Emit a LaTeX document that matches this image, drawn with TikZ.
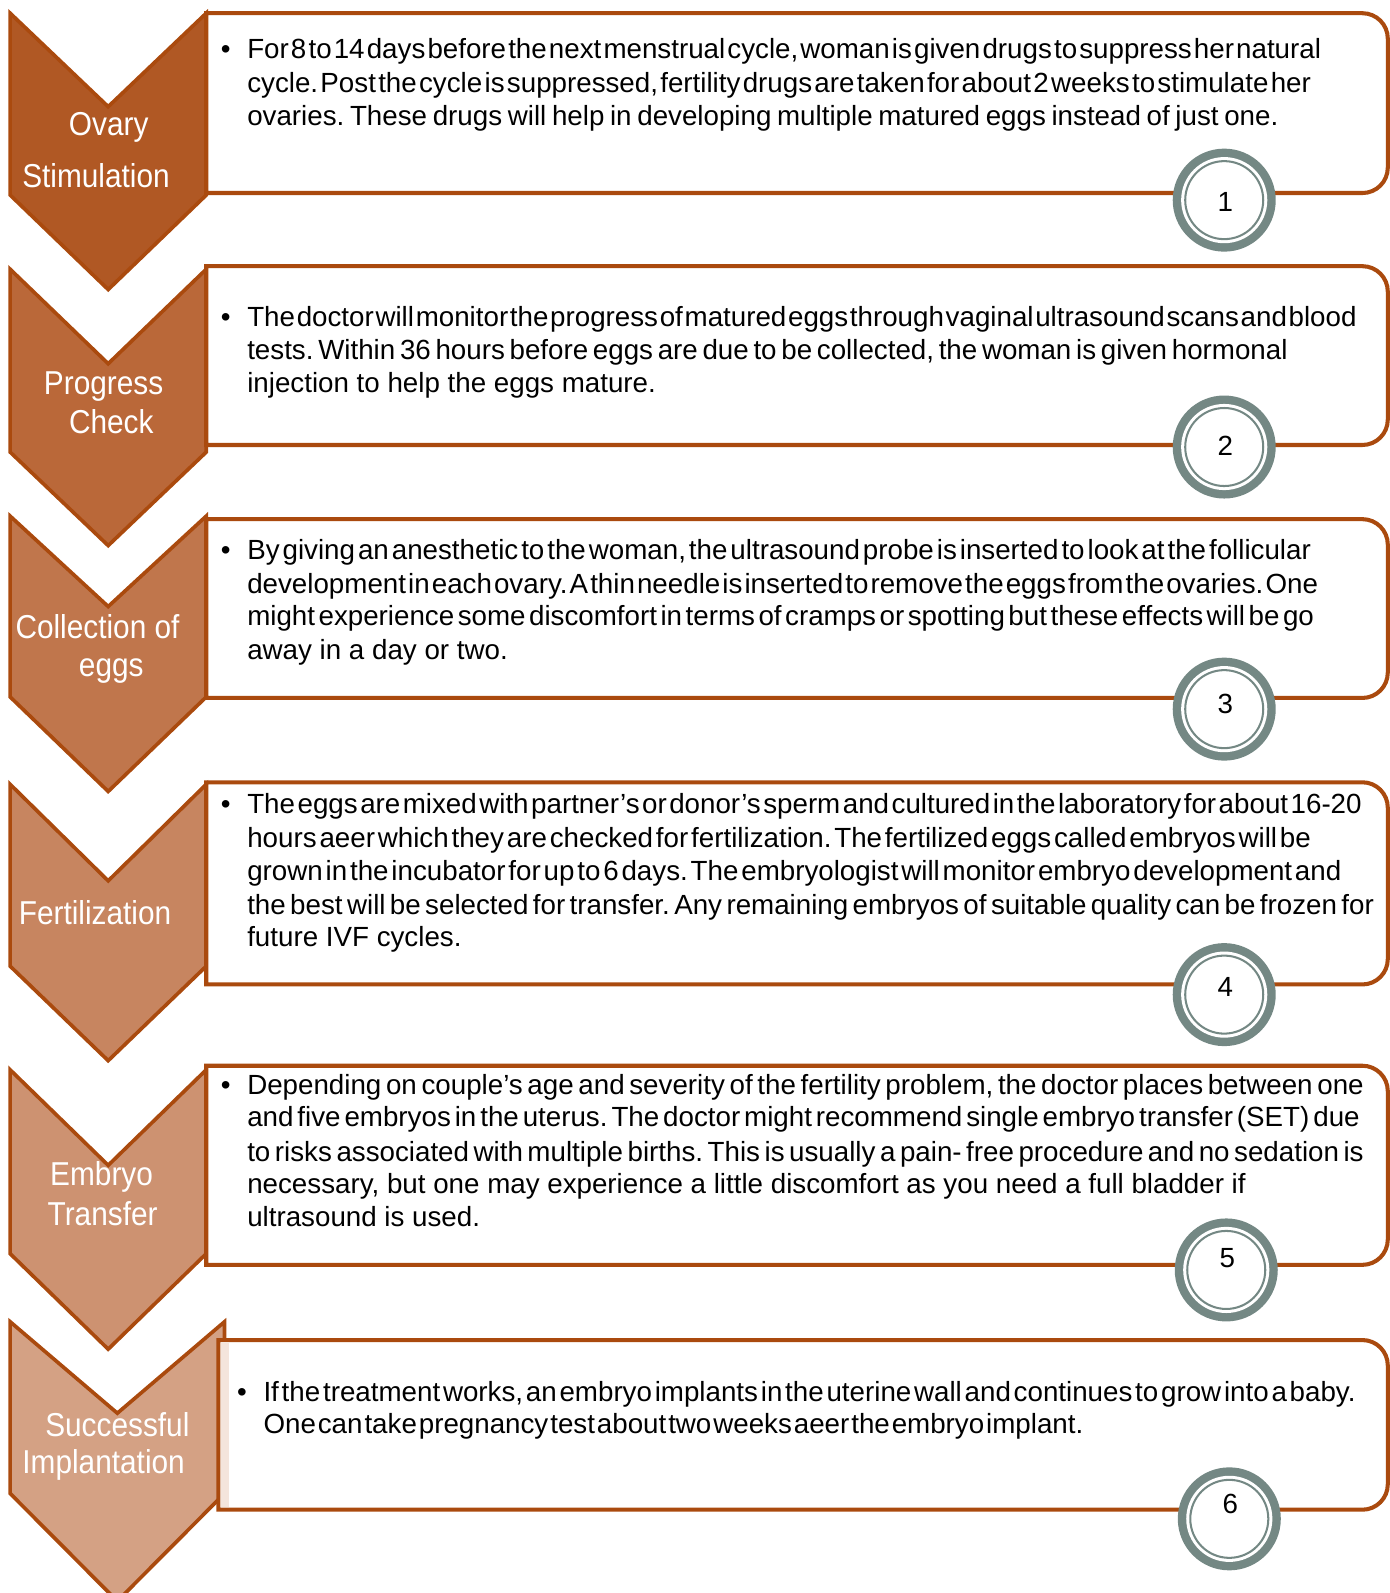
\documentclass[tikz,border=0pt]{standalone}
\usepackage{fontspec}
\setmainfont{Liberation Sans}
\newfontfamily\labelfont{Liberation Sans}[FakeStretch=0.9]
\frenchspacing

% one drawing unit = 0.5pt
\newdimen\pxu \pxu=0.5pt
% a text line set to a given width, the word spaces taking up the difference
\newcommand\tline[2]{\hbox to #1\pxu{\spaceskip=0.278em plus 0.25em minus 0.26em\relax #2}}

\definecolor{rust}{RGB}{170,74,14}
\definecolor{chevA}{RGB}{176,88,36}
\definecolor{chevB}{RGB}{186,104,57}
\definecolor{chevC}{RGB}{192,118,76}
\definecolor{chevD}{RGB}{199,133,96}
\definecolor{chevE}{RGB}{205,146,113}
\definecolor{chevF}{RGB}{212,161,132}
\definecolor{ringgray}{RGB}{116,136,132}
\definecolor{paleshade}{RGB}{244,229,220}

\tikzset{
  chev/.style={draw=rust, line width=1.8pt, line join=miter},
  stepbox/.style={draw=rust, line width=2pt, fill=white},
  body/.style={font=\fontsize{13.65}{16.4}\selectfont, inner sep=0pt, anchor=base west},
  lab/.style={font=\labelfont\fontsize{16.3}{19}\selectfont, text=white, inner sep=0pt, anchor=base},
  num/.style={font=\fontsize{13.65}{16}\selectfont, inner sep=0pt, anchor=base},
  ring/.pic={
    \fill[ringgray] (0,0) circle[radius=25.35pt];
    \fill[white] (0,0) circle[radius=21.2pt];
    \draw[ringgray, line width=1pt] (0,0) circle[radius=19.2pt];
  }
}

% text frame: square on the left, rounded on the right
% #1 left, #2 top, #3 bottom
\newcommand\stepframe[3]{%
  \draw[stepbox] (#1,#3) -- (#1,#2) -- (1341,#2)
    .. controls (1354.8,#2) and (1366,#2+11.2) .. (1366,#2+25)
    -- (1366,#3-25)
    .. controls (1366,#3-11.2) and (1354.8,#3) .. (1341,#3) -- cycle;}

\begin{document}
\begin{tikzpicture}[x=0.5pt,y=-0.5pt]
\useasboundingbox (0,0) rectangle (1368,1568);

% ---------- step 1 ----------
\draw[chev, fill=chevA] (10,13) -- (106.5,105) -- (203,13) -- (203,192) -- (106.5,285) -- (10,192) -- cycle;
\stepframe{203}{13}{190}
\node[body] (b1) at (217,58) {•};
\node[body] (t1a) at (243,58) {\tline{1057}{For 8 to 14 days before the next menstrual cycle, woman is given drugs to suppress her natural}};
\node[body] (t1b) at (243,91) {\tline{1047}{cycle. Post the cycle is suppressed, fertility drugs are taken for about 2 weeks to stimulate her}};
\node[body] (t1c) at (243,124) {\tline{1015}{ovaries. These drugs will help in developing multiple matured eggs instead of just one.}};
\pic at (1205,197) {ring};
\node[num] (n1) at (1206,208) {1};
\node[lab] (l1a) at (107,133) {Ovary};
\node[lab] (l1b) at (94.5,185) {Stimulation};

% ---------- step 2 ----------
\draw[chev, fill=chevB] (10,265) -- (106.5,358) -- (203,265) -- (203,445) -- (106.5,537) -- (10,445) -- cycle;
\stepframe{203}{262}{438}
\node[body] (b2) at (217,321) {•};
\node[body] (t2a) at (243,321) {\tline{1092}{The doctor will monitor the progress of matured eggs through vaginal ultrasound scans and blood}};
\node[body] (t2b) at (243,354) {\tline{1024}{tests. Within 36 hours before eggs are due to be collected, the woman is given hormonal}};
\node[body] (t2c) at (243,386) {injection to help the eggs mature.};
\pic at (1205,440) {ring};
\node[num] (n2) at (1206,448) {2};
\node[lab] (l2a) at (102,388) {Progress};
\node[lab] (l2b) at (109.5,427) {Check};

% ---------- step 3 ----------
\draw[chev, fill=chevC] (10,508) -- (106.5,597) -- (203,508) -- (203,686) -- (106.5,779) -- (10,686) -- cycle;
\stepframe{203}{511}{687}
\node[body] (b3) at (217,551) {•};
\node[body] (t3a) at (243,551) {\tline{1047}{By giving an anesthetic to the woman, the ultrasound probe is inserted to look at the follicular}};
\node[body] (t3b) at (243,584) {\tline{1054}{development in each ovary. A thin needle is inserted to remove the eggs from the ovaries. One}};
\node[body] (t3c) at (243,616) {\tline{1050}{might experience some discomfort in terms of cramps or spotting but these effects will be go}};
\node[body] (t3d) at (243,649) {away in a day or two.};
\pic at (1205,698) {ring};
\node[num] (n3) at (1206,702) {3};
\node[lab] (l3a) at (96,628) {Collection of};
\node[lab] (l3b) at (109.5,666) {eggs};

% ---------- step 4 ----------
\draw[chev, fill=chevD] (10,772) -- (106.5,867) -- (203,772) -- (203,951) -- (106.5,1044) -- (10,951) -- cycle;
\stepframe{203}{770}{969}
\node[body] (b4) at (217,801) {•};
\node[body] (t4a) at (243,801) {\tline{1097}{The eggs are mixed with partner’s or donor’s sperm and cultured in the laboratory for about 16-20}};
\node[body] (t4b) at (243,834) {\tline{1047}{hours aeer which they are checked for fertilization. The fertilized eggs called embryos will be}};
\node[body] (t4c) at (243,867) {\tline{1077}{grown in the incubator for up to 6 days. The embryologist will monitor embryo development and}};
\node[body] (t4d) at (243,900) {\tline{1109}{the best will be selected for transfer. Any remaining embryos of suitable quality can be frozen for}};
\node[body] (t4e) at (243,932) {future IVF cycles.};
\pic at (1205,979) {ring};
\node[num] (n4) at (1206,981) {4};
\node[lab] (l4a) at (93.5,910) {Fertilization};

% ---------- step 5 ----------
\draw[chev, fill=chevE] (10,1053) -- (106.5,1147) -- (203,1053) -- (203,1234) -- (106.5,1328) -- (10,1234) -- cycle;
\stepframe{203}{1049}{1245}
\node[body] (b5) at (217,1077) {•};
\node[body] (t5a) at (243,1077) {\tline{1099}{Depending on couple’s age and severity of the fertility problem, the doctor places between one}};
\node[body] (t5b) at (243,1109) {\tline{1095}{and five embryos in the uterus. The doctor might recommend single embryo transfer (SET) due}};
\node[body] (t5c) at (243,1143) {\tline{1099}{to risks associated with multiple births. This is usually a pain- free procedure and no sedation is}};
\node[body] (t5d) at (243,1175) {necessary, but one may experience a little discomfort as you need a full bladder if};
\node[body] (t5e) at (243,1207) {ultrasound is used.};
\pic at (1207,1250) {ring};
\node[num] (n5) at (1208,1248) {5};
\node[lab] (l5a) at (100,1167) {Embryo};
\node[lab] (l5b) at (101,1206) {Transfer};

% ---------- step 6 ----------
\draw[chev, fill=chevF] (10,1301) -- (115.5,1391) -- (221,1301) -- (221,1470) -- (115.5,1576) -- (10,1470) -- cycle;
\stepframe{215}{1319}{1486}
\fill[paleshade] (218,1322) rectangle (225,1483);
\node[body] (b6) at (233,1379) {•};
\node[body] (t6a) at (259,1379) {\tline{1075}{If the treatment works, an embryo implants in the uterine wall and continues to grow into a baby.}};
\node[body] (t6b) at (259,1411) {\tline{807}{One can take pregnancy test about two weeks aeer the embryo implant.}};
\pic at (1210,1495) {ring};
\node[num] (n6) at (1211,1490) {6};
\node[lab] (l6a) at (115.5,1414) {Successful};
\node[lab] (l6b) at (102,1450) {Implantation};
\end{tikzpicture}
\end{document}
